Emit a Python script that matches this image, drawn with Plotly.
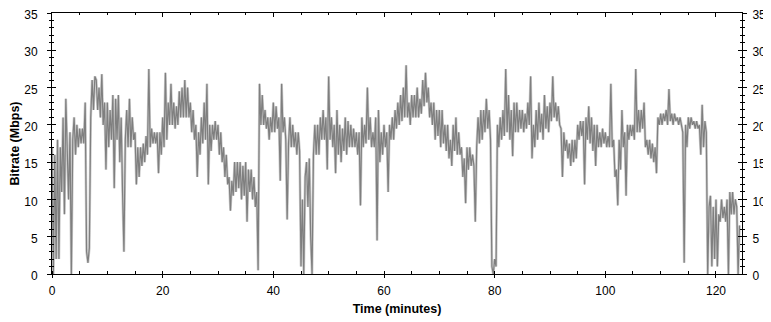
import plotly.graph_objects as go

# Bitrate in Mbps, sampled every 0.25 minute (4 samples per minute, one row per minute)
bitrate = [
    17, 0, 16, 2,          # 0
    18, 2, 17, 11,         # 1
    21, 8, 23.5, 15,       # 2
    10, 19, 0, 18,         # 3
    21, 16, 20, 17,        # 4
    19.5, 17.5, 19.5, 17.5,  # 5
    23, 3, 1.5, 3.5,       # 6
    21, 26, 22, 26.5,      # 7
    26, 22, 25, 21,        # 8
    26.8, 20, 23, 14,      # 9
    23, 17, 22, 18,        # 10
    24, 11.5, 23.5, 18,    # 11
    24, 15, 21, 11,        # 12
    3, 18, 22, 17,         # 13
    23.5, 17, 21, 18,      # 14
    19, 12, 17, 13,        # 15
    17, 14.5, 17.5, 15,    # 16
    18.5, 16, 27.5, 17,    # 17
    19.5, 17.5, 19, 17.5,  # 18
    19, 13.5, 19, 16,      # 19
    21, 17, 27, 18,        # 20
    23, 20, 25.5, 20,      # 21
    23, 19.5, 22.5, 20,    # 22
    24.5, 21, 25, 21,      # 23
    26, 21, 25, 21,        # 24
    23, 19, 22, 18,        # 25
    20, 13, 19, 16,        # 26
    21, 17.5, 23, 18,      # 27
    25.5, 12, 20, 16.5,    # 28
    20, 18, 20.5, 18,      # 29
    20, 16, 19, 15,        # 30
    17, 13, 16, 12,        # 31
    13, 8.5, 12.5, 10.5,   # 32
    15, 11, 15, 11.5,      # 33
    15, 10, 14.5, 10.5,    # 34
    15, 7, 14, 11,         # 35
    14, 10, 13, 9,         # 36
    11, 0.5, 25.5, 20,     # 37
    24, 20, 22, 19.5,      # 38
    21, 18, 21, 19,        # 39
    23, 19, 22.5, 19.5,    # 40
    21, 12.5, 25.5, 19,    # 41
    21, 18, 7.3, 17.5,     # 42
    21, 17, 20, 17,        # 43
    19, 16, 19, 16.5,      # 44
    1, 10, 0, 13,          # 45
    15, 9, 15.5, 5,        # 46
    0, 16, 20, 16,         # 47
    20, 16, 21, 18,        # 48
    22, 18, 21, 14,        # 49
    26.5, 18, 21, 17,      # 50
    20, 13.5, 22, 16,      # 51
    20, 15, 19.5, 16.5,    # 52
    21, 16, 20.5, 17,      # 53
    20, 17, 19.5, 17,      # 54
    19, 16, 19, 9.2,       # 55
    21, 17, 20, 17.5,      # 56
    25, 18, 21, 17,        # 57
    19, 17, 21, 4.5,       # 58
    22, 15, 19, 16,        # 59
    20, 17, 19, 11,        # 60
    20, 18, 21, 18,        # 61
    22, 19.5, 23, 20,      # 62
    24, 20.5, 25, 21,      # 63
    28, 21, 23, 20,        # 64
    24, 21, 24, 21,        # 65
    25, 21, 23.5, 21.5,    # 66
    26, 22.5, 27, 23,      # 67
    25, 21, 23, 20,        # 68
    23, 18, 22, 18.5,      # 69
    22, 17, 22, 17.5,      # 70
    20, 16.5, 20, 15.5,    # 71
    18, 14.5, 20, 16.5,    # 72
    21, 16, 19, 16,        # 73
    17, 13, 15.5, 9.5,     # 74
    17, 14, 17, 14.5,      # 75
    16, 14.5, 7, 17,       # 76
    21, 17.5, 22, 18,      # 77
    22, 19, 23.5, 19.5,    # 78
    22, 18, 1, 0,          # 79
    2, 1, 20, 17,          # 80
    21, 18, 22, 18.5,      # 81
    27.5, 19, 24, 18,      # 82
    22, 15.8, 23, 19,      # 83
    23, 19, 22, 19.5,      # 84
    22, 19, 21.5, 19.5,    # 85
    23, 20, 26.5, 15.5,    # 86
    20, 17, 22, 18,        # 87
    23, 19, 21.5, 18,      # 88
    24, 19.5, 22.5, 19,    # 89
    23, 20.5, 26.5, 21,    # 90
    23, 20.5, 22.5, 20,    # 91
    19.5, 13, 19, 16.5,    # 92
    18, 15.5, 17.5, 14.5,  # 93
    18, 15, 18, 15.5,      # 94
    20, 18, 20.5, 18.5,    # 95
    20.5, 12, 21, 18,      # 96
    22.5, 17.5, 21, 16.5,  # 97
    20, 14.5, 20, 17,      # 98
    19, 17, 19.5, 17.5,    # 99
    19, 17, 18.5, 17,      # 100
    25.5, 17, 18, 13,      # 101
    14, 9.2, 18, 14,       # 102
    22, 17, 19, 10.5,      # 103
    20, 18, 20, 18.5,      # 104
    20, 18, 27.5, 19,      # 105
    22, 19, 22, 19.5,      # 106
    23, 17, 18, 16,        # 107
    18, 15.5, 17.5, 15,    # 108
    17, 13.5, 21, 20,      # 109
    21.5, 20, 21.5, 20.5,  # 110
    22, 20, 24.8, 20.5,    # 111
    21.5, 20, 21.5, 20.5,  # 112
    21, 20, 21, 20,        # 113
    19, 1.5, 20, 17,       # 114
    21, 19.5, 21, 20,      # 115
    20.5, 19.5, 20.5, 19.5,  # 116
    20, 16, 22.7, 17,      # 117
    20.5, 19, 0, 9,        # 118
    10.5, 1, 9, 2,         # 119
    10, 1, 8, 7,           # 120
    10, 7.5, 9, 7,         # 121
    10, 0, 11, 8,          # 122
    11, 8, 10, 9,          # 123
    0, 6.5,                # 124
]
sample_step_min = 0.25
minutes = [i * sample_step_min for i in range(len(bitrate))]

x_ticks = [0, 20, 40, 60, 80, 100, 120]
y_ticks = [0, 5, 10, 15, 20, 25, 30, 35]

FONT = "Liberation Sans"
X_RANGE = [0, 124.7]
Y_RANGE = [0, 35]

fig = go.Figure()
# light halo
fig.add_trace(go.Scatter(x=minutes, y=bitrate, mode="lines",
                         line=dict(color="#cccccc", width=2.6), hoverinfo="skip",
                         showlegend=False))
# main dark line
fig.add_trace(go.Scatter(x=minutes, y=bitrate, mode="lines",
                         line=dict(color="#7f7f7f", width=1.2),
                         showlegend=False))
# empty traces to register the extra axes
fig.add_trace(go.Scatter(x=[], y=[], xaxis="x2", yaxis="y2", showlegend=False))
fig.add_trace(go.Scatter(x=[], y=[], xaxis="x3", yaxis="y3", showlegend=False))
fig.add_trace(go.Scatter(x=[], y=[], xaxis="x", yaxis="y4", showlegend=False))

tickfont = dict(family=FONT, size=12, color="#000000")
titlefont = dict(family=FONT, size=12.5, color="black")

common_x = dict(range=X_RANGE, tickvals=x_ticks, showgrid=False, zeroline=False,
                linecolor="black", linewidth=1, tickcolor="black", tickwidth=1,
                automargin=False, ticklabeloverflow="allow")
common_y = dict(range=Y_RANGE, tickvals=y_ticks, showgrid=False, zeroline=False,
                linecolor="black", linewidth=1, tickcolor="black", tickwidth=1,
                automargin=False, ticklabeloverflow="allow")

# page body has an 8px margin, so the figure is sized to fit the 771x322 window
fig.update_layout(
    width=763, height=314,
    margin=dict(l=44, r=29, t=5, b=48),
    paper_bgcolor="white", plot_bgcolor="white",
    showlegend=False,
    xaxis=dict(**common_x, side="bottom", anchor="y", showline=True,
               ticks="outside", ticklen=3, ticklabelstandoff=3,
               minor=dict(dtick=5, tick0=0, ticks="inside", ticklen=3, tickcolor="black", showgrid=False),
               tickfont=tickfont,
               title=dict(text="<b>Time (minutes)</b>", font=titlefont, standoff=6)),
    xaxis2=dict(**common_x, side="bottom", anchor="y", overlaying="x", showline=False,
                ticks="inside", ticklen=3, showticklabels=False),
    xaxis3=dict(**common_x, side="top", anchor="y", overlaying="x", showline=True,
                ticks="inside", ticklen=4, showticklabels=False,
                minor=dict(dtick=5, tick0=0, ticks="inside", ticklen=2, tickcolor="black", showgrid=False)),
    yaxis=dict(**common_y, side="left", anchor="x", showline=True,
               ticks="outside", ticklen=4, ticklabelstandoff=7, ticklabelshift=2,
               minor=dict(dtick=1, tick0=0, ticks="outside", ticklen=2, tickcolor="black", showgrid=False),
               tickfont=tickfont,
               title=dict(text="<b>Bitrate (Mbps)</b>", font=titlefont, standoff=7)),
    yaxis2=dict(**common_y, side="right", anchor="x", overlaying="y", showline=True,
                ticks="outside", ticklen=4, ticklabelstandoff=3, ticklabelshift=2,
                minor=dict(dtick=1, tick0=0, ticks="outside", ticklen=2, tickcolor="black", showgrid=False),
                tickfont=tickfont),
    yaxis3=dict(**common_y, side="left", anchor="x", overlaying="y", showline=False,
                ticks="inside", ticklen=4, showticklabels=False,
                minor=dict(dtick=1, tick0=0, ticks="inside", ticklen=2, tickcolor="black", showgrid=False)),
    yaxis4=dict(**common_y, side="right", anchor="x", overlaying="y", showline=False,
                ticks="inside", ticklen=4, showticklabels=False,
                minor=dict(dtick=1, tick0=0, ticks="inside", ticklen=2, tickcolor="black", showgrid=False)),
)

fig.write_html("out.html")
